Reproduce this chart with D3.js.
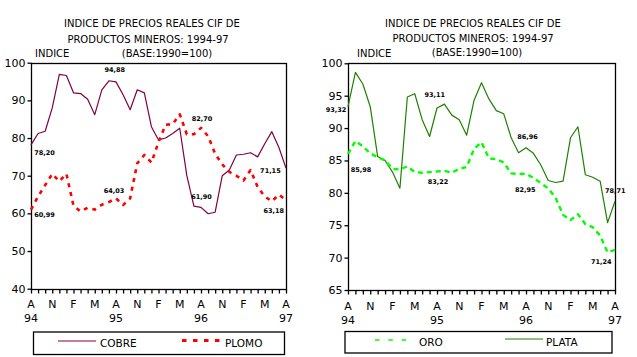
<!DOCTYPE html>
<html><head><meta charset="utf-8">
<script src="https://cdn.jsdelivr.net/npm/d3@7"></script>
<style>
body{margin:0;background:#fff;}
svg{display:block;}
text{font-family:"DejaVu Sans",Verdana,sans-serif;fill:#000;}
</style></head>
<body>
<svg id="c" width="637" height="357"></svg>
<script>
// ---- data ----
const nMonths = 37; // Apr 94 .. Apr 97
const tickLabels = ["A","N","F","M","A","N","F","M","A","N","F","M","A"];
const yearLabels = ["94","95","96","97"];
const titleLines = ["INDICE DE PRECIOS REALES CIF DE","PRODUCTOS MINEROS: 1994-97","(BASE:1990=100)"];
const yTitle = "INDICE";

const cobre = [78.2,81.2,81.8,88.0,96.9,96.6,92.0,91.8,90.3,86.2,92.8,95.2,94.9,91.5,87.5,92.8,92.0,83.0,79.5,80.0,81.2,82.6,70.0,61.9,61.6,59.9,60.3,70.0,71.5,75.5,75.7,76.1,75.0,78.5,81.7,77.5,72.0];
const plomo = [61.0,64.5,67.5,70.5,68.5,70.5,62.0,60.5,61.5,61.0,62.3,63.0,64.0,62.2,64.0,73.3,75.5,73.5,78.9,83.5,83.7,86.3,81.0,81.0,82.7,80.5,75.8,73.0,71.0,70.0,68.7,71.5,67.0,64.5,63.2,65.0,63.5];
const oro   = [86.0,88.0,87.2,86.1,85.5,85.0,83.7,83.6,84.1,83.2,83.1,83.2,83.3,83.4,83.1,83.7,84.0,86.8,87.8,85.3,85.2,84.7,83.0,82.9,82.95,82.3,81.5,80.7,79.2,76.6,75.8,76.7,75.2,74.7,73.4,70.8,71.2];
const plata = [93.3,98.6,96.8,93.3,85.6,85.0,83.2,80.7,94.8,95.3,91.3,88.7,93.1,93.7,92.0,91.3,88.9,94.3,97.0,94.5,92.7,92.2,88.5,86.2,86.96,86.1,84.3,81.9,81.6,81.8,88.5,90.2,82.8,82.4,81.8,75.4,78.7];

const leftTicks = [40,50,60,70,80,90,100];
const rightTicks = [65,70,75,80,85,90,95,100];

// value labels: [text, series, month index]
const leftLabels  = [["78,20","cobre",0],["60,99","plomo",0],["94,88","cobre",12],["64,03","plomo",12],["82,70","plomo",24],["61,90","cobre",23],["71,15","cobre",36],["63,18","plomo",34]];
const rightLabels = [["93,32","plata",0],["85,98","oro",0],["93,11","plata",12],["83,22","oro",12],["86,96","plata",24],["82,95","oro",24],["78,71","plata",36],["71,24","oro",35]];
const seriesByName = {cobre, plomo, oro, plata};

// ---- drawing ----
const svg = d3.select("#c");

const panels = [
  {x0:31, x1:286, yTop:62.7, yBot:288.7, domain:[40,100], ticks:leftTicks,
   titleCx:[152,148,167], titleY:[23.5,39.5,53], idxX:35,
   monthY:304.5, yearY:318.5,
   series:[{name:"cobre",data:cobre,color:"#800040",w:1.2,dash:null},
           {name:"plomo",data:plomo,color:"#ff0000",w:2.6,dash:"4,5"}],
   labels:leftLabels,
   offsets:[[13.5,8.2],[13.5,4.9],[-1.3,-11.9],[-2,-7.8],[1.1,-9.2],[7.5,-9.9],[-15.6,2.1],[1.9,9.7]],
   legend:{x:33,y:331.5,w:251,h:22.5,
     items:[{name:"COBRE",color:"#800040",w:1.2,dash:null,lx:[58,96],ly:341,tx:100},
            {name:"PLOMO",color:"#ff0000",w:3,dash:"4.5,6.5",lx:[182,220],ly:340.5,tx:225}]}},
  {x0:348, x1:615, yTop:63.3, yBot:290, domain:[65,100], ticks:rightTicks,
   titleCx:[473,473,477], titleY:[23,38.5,52.5], idxX:357,
   monthY:306, yearY:320,
   series:[{name:"plata",data:plata,color:"#1f8000",w:1.2,dash:null},
           {name:"oro",data:oro,color:"#00ff00",w:2.4,dash:"5,4"}],
   labels:rightLabels,
   offsets:[[-12,2.9],[13,15.4],[-2.3,-12.8],[1,10.4],[1.5,-10.9],[-0.7,16.4],[0.3,-10.1],[-6.3,9.5]],
   legend:{x:344.5,y:331,w:267,h:21.5,
     items:[{name:"ORO",color:"#00ff00",w:1.5,dash:"4.5,8.8",lx:[375,414],ly:340,tx:419},
            {name:"PLATA",color:"#1f8000",w:1.2,dash:null,lx:[505,543],ly:339,tx:546}]}}
];

panels.forEach(p => {
  const x = d3.scaleLinear().domain([0, nMonths-1]).range([p.x0, p.x1]);
  const y = d3.scaleLinear().domain(p.domain).range([p.yBot, p.yTop]);
  const g = svg.append("g");

  // titles
  titleLines.forEach((t,k) => {
    g.append("text").attr("x", p.titleCx[k]).attr("y", p.titleY[k]).attr("dy","0.35em")
      .attr("text-anchor","middle").style("font-size","10px").text(t);
  });
  g.append("text").attr("x", p.idxX).attr("y", p.titleY[2]+0.5).attr("dy","0.35em")
    .style("font-size","10px").text(yTitle);

  // frame
  g.append("rect").attr("x", p.x0+0.5).attr("y", Math.round(p.yTop)+0.5)
    .attr("width", Math.round(p.x1-p.x0)).attr("height", Math.round(p.yBot-p.yTop))
    .attr("fill","none").attr("stroke","#000").attr("stroke-width",1.3);

  // y axis
  const ya = g.append("g").attr("transform",`translate(${p.x0+0.5},0)`)
    .call(d3.axisLeft(y).tickValues(p.ticks).tickSize(4).tickPadding(2).tickFormat(d3.format("d")));
  ya.select(".domain").remove();
  ya.selectAll("line").attr("stroke","#000").attr("stroke-width",1.3);
  ya.selectAll("text").style("font-size","11px").style("font-family","DejaVu Sans");

  // x axis
  const xa = g.append("g").attr("transform",`translate(0,${Math.round(p.yBot)+0.5})`)
    .call(d3.axisBottom(x).tickValues(d3.range(nMonths)).tickSize(4).tickFormat(""));
  xa.select(".domain").remove();
  xa.selectAll("line").attr("stroke","#000").attr("stroke-width",1.3);

  g.selectAll(".ml").data(tickLabels).join("text")
    .attr("x",(d,i)=>x(i*3)).attr("y",p.monthY).attr("dy","0.35em").attr("text-anchor","middle")
    .style("font-size","11px").text(d=>d);
  g.selectAll(".yl").data(yearLabels).join("text")
    .attr("x",(d,i)=>x(i*12)).attr("y",p.yearY).attr("dy","0.35em").attr("text-anchor","middle")
    .style("font-size","11px").text(d=>d);

  // series
  p.series.forEach(s => {
    const line = d3.line().x((d,i)=>x(i)).y(d=>y(d));
    g.append("path").datum(s.data).attr("d", line).attr("fill","none")
      .attr("stroke", s.color).attr("stroke-width", s.w)
      .attr("stroke-dasharray", s.dash).attr("stroke-linejoin","round");
  });

  // value labels
  p.labels.forEach((l,k) => {
    const v = seriesByName[l[1]][l[2]];
    g.append("text").attr("x", x(l[2]) + p.offsets[k][0]).attr("y", y(v) + p.offsets[k][1])
      .attr("dy","0.35em").attr("text-anchor","middle")
      .style("font-size","6.5px").style("font-weight","bold").text(l[0]);
  });

  // legend
  const L = p.legend;
  g.append("rect").attr("x", L.x+0.5).attr("y", L.y+0.5).attr("width", L.w).attr("height", L.h)
    .attr("fill","none").attr("stroke","#000").attr("stroke-width",1.3);
  L.items.forEach(it => {
    g.append("line").attr("x1", it.lx[0]).attr("x2", it.lx[1]).attr("y1", it.ly).attr("y2", it.ly)
      .attr("stroke", it.color).attr("stroke-width", it.w).attr("stroke-dasharray", it.dash);
    g.append("text").attr("x", it.tx).attr("y", L.y + L.h/2 + 0.5).attr("dy","0.35em")
      .style("font-size","10.5px").text(it.name);
  });
});
</script>
</body></html>
